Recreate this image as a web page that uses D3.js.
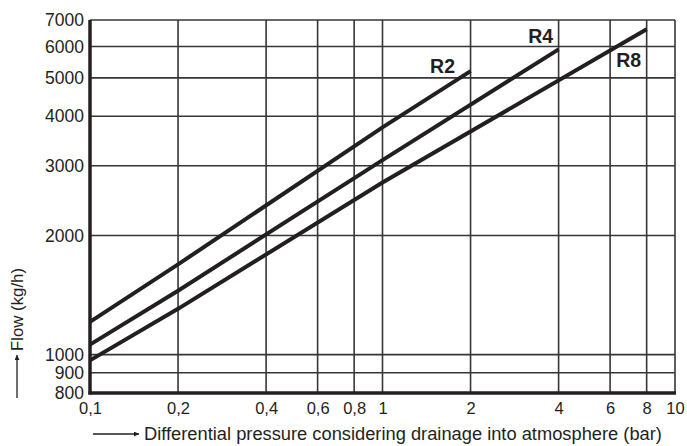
<!DOCTYPE html>
<html>
<head>
<meta charset="utf-8">
<script src="https://cdn.jsdelivr.net/npm/d3@7"></script>
<style>
  html, body { margin: 0; padding: 0; background: #fff; }
  #chart { width: 687px; height: 446px; }
  text { font-family: "Liberation Sans", Arial, sans-serif; fill: #231f20; }
</style>
</head>
<body>
<div id="chart"></div>
<script>
// tick values
const xTicks = [0.1, 0.2, 0.4, 0.6, 0.8, 1, 2, 4, 6, 8, 10];
const xTickLabels = ['0,1', '0,2', '0,4', '0,6', '0,8', '1', '2', '4', '6', '8', '10'];
const yTicks = [800, 900, 1000, 2000, 3000, 4000, 5000, 6000, 7000];

// curves (straight lines on log-log paper)
const seriesNames = ['R2', 'R4', 'R8'];
const r2Pressure = [0.1, 0.2, 1, 2];
const r2Flow = [1210, 1690, 3750, 5200];
const r4Pressure = [0.1, 0.2, 1, 4];
const r4Flow = [1060, 1450, 3100, 5900];
const r8Pressure = [0.1, 0.2, 1, 8];
const r8Flow = [967, 1305, 2720, 6630];

const series = [
    { name: seriesNames[0], x: r2Pressure, y: r2Flow, label: [-28, 2] },
    { name: seriesNames[1], x: r4Pressure, y: r4Flow, label: [-18, -6] },
    { name: seriesNames[2], x: r8Pressure, y: r8Flow, label: [-18, 38] }
];

const margin = { top: 20, right: 12, bottom: 53, left: 90 };
const width = 687 - margin.left - margin.right;
const height = 446 - margin.top - margin.bottom;

const svg = d3.select('#chart').append('svg')
    .attr('width', 687)
    .attr('height', 446);

const g = svg.append('g')
    .attr('transform', `translate(${margin.left},${margin.top})`);

const x = d3.scaleLog().domain([0.1, 10]).range([0, width]);
const y = d3.scaleLog().domain([800, 7000]).range([height, 0]);

// grid
const gridColor = '#363636';
g.append('g')
    .selectAll('line')
    .data(xTicks)
    .enter().append('line')
    .attr('x1', d => x(d)).attr('x2', d => x(d))
    .attr('y1', 0).attr('y2', height)
    .attr('stroke', gridColor)
    .attr('stroke-width', 1.6);

g.append('g')
    .selectAll('line')
    .data(yTicks)
    .enter().append('line')
    .attr('x1', 0).attr('x2', width)
    .attr('y1', d => y(d)).attr('y2', d => y(d))
    .attr('stroke', gridColor)
    .attr('stroke-width', 1.6);

// axes (labels only, thick frame drawn below)
const xAxis = d3.axisBottom(x)
    .tickValues(xTicks)
    .tickSize(0)
    .tickPadding(9)
    .tickFormat((d, i) => xTickLabels[i]);

const xg = g.append('g')
    .attr('transform', `translate(0,${height})`)
    .call(xAxis);
xg.select('.domain').remove();
xg.selectAll('text')
    .style('font-size', '16.5px')
    .style('font-family', '"Liberation Sans", Arial, sans-serif')
    .attr('fill', '#231f20');

const yAxis = d3.axisLeft(y)
    .tickValues(yTicks)
    .tickSize(0)
    .tickPadding(6)
    .tickFormat(d3.format('d'));

const yg = g.append('g').call(yAxis);
yg.select('.domain').remove();
yg.selectAll('text')
    .style('font-size', '17.5px')
    .style('font-family', '"Liberation Sans", Arial, sans-serif')
    .attr('fill', '#231f20');

// thick left and bottom frame
g.append('line')
    .attr('x1', 0).attr('x2', 0)
    .attr('y1', 0).attr('y2', height + 1.5)
    .attr('stroke', '#231f20')
    .attr('stroke-width', 3.5);
g.append('line')
    .attr('x1', -1.5).attr('x2', width + 1)
    .attr('y1', height).attr('y2', height)
    .attr('stroke', '#231f20')
    .attr('stroke-width', 3.5);

// curves
const line = d3.line()
    .x(d => x(d[0]))
    .y(d => y(d[1]));

series.forEach(s => {
    const pts = s.x.map((v, i) => [v, s.y[i]]);
    g.append('path')
        .datum(pts)
        .attr('fill', 'none')
        .attr('stroke', '#231f20')
        .attr('stroke-width', 4)
        .attr('d', line);

    const last = pts[pts.length - 1];
    g.append('text')
        .attr('x', x(last[0]) + s.label[0])
        .attr('y', y(last[1]) + s.label[1])
        .attr('text-anchor', 'middle')
        .style('font-size', '19.5px')
        .style('font-weight', 'bold')
        .text(s.name);
});

// axis titles with arrows
svg.append('defs').append('marker')
    .attr('id', 'arrow')
    .attr('viewBox', '0 0 10 10')
    .attr('refX', 10).attr('refY', 5)
    .attr('markerWidth', 9).attr('markerHeight', 5)
    .attr('markerUnits', 'userSpaceOnUse')
    .attr('orient', 'auto')
    .append('path')
    .attr('d', 'M0,0 L10,5 L0,10 Z')
    .attr('fill', '#231f20');

svg.append('line')
    .attr('x1', 93).attr('x2', 139)
    .attr('y1', 434).attr('y2', 434)
    .attr('stroke', '#231f20')
    .attr('stroke-width', 1.3)
    .attr('marker-end', 'url(#arrow)');

svg.append('text')
    .attr('x', 144)
    .attr('y', 434)
    .attr('dy', '0.35em')
    .style('font-size', '18.3px')
    .text('Differential pressure considering drainage into atmosphere (bar)');

svg.append('line')
    .attr('x1', 17).attr('x2', 17)
    .attr('y1', 398).attr('y2', 355)
    .attr('stroke', '#231f20')
    .attr('stroke-width', 1.3)
    .attr('marker-end', 'url(#arrow)');

svg.append('text')
    .attr('transform', 'translate(17,351) rotate(-90)')
    .attr('dy', '0.35em')
    .style('font-size', '16.8px')
    .text('Flow (kg/h)');
</script>
</body>
</html>
